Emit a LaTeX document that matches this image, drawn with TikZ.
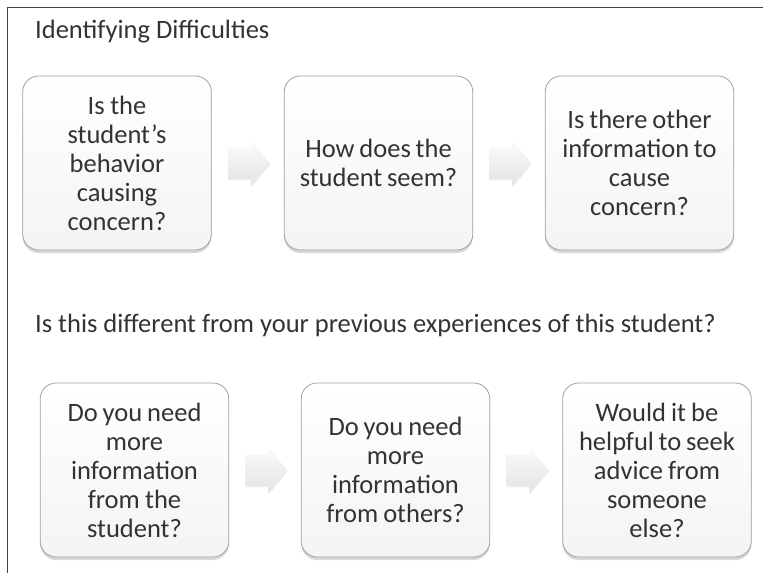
\documentclass[tikz,border=0pt]{standalone}
\usepackage{fontspec}
\setmainfont{Carlito}
\usetikzlibrary{shadows,calc}
\definecolor{boxgray}{HTML}{A0A0A0}
\definecolor{boxbot}{HTML}{F4F4F4}
\definecolor{txt}{HTML}{333333}
\definecolor{framec}{HTML}{444444}
\begin{document}
\begin{tikzpicture}[x=1pt,y=-1pt]
\useasboundingbox (0,0) rectangle (763,573);
\fill[white] (0,0) rectangle (763,573);
\tikzset{
  qbox/.style={draw=boxgray, line width=0.8pt, rounded corners=16pt,
    top color=white, bottom color=boxbot,
    minimum width=188pt, minimum height=174pt, text width=182pt,
    align=center, font=\fontsize{26.5}{29}\selectfont, text=txt,
    execute at begin node={\spaceskip=4.5pt plus 1pt minus 1pt\relax},
    drop shadow={shadow xshift=0pt, shadow yshift=-3pt, opacity=0.3}},
  flowarrow/.style={draw=none, top color=gray!3, bottom color=gray!22,
    drop shadow={shadow xshift=0.5pt, shadow yshift=-1.5pt, opacity=0.15}},
  lbl/.style={anchor=west, text=txt, font=\fontsize{26.5}{30}\selectfont, inner sep=0pt}
}
\draw[framec, line width=1.5pt] (7.5,573) -- (7.5,7.5) -- (763,7.5);
\node[lbl] (title) at (35,32) {Identifying Difficulties};
\node[qbox] (b1) at (117,163) {Is the\\student’s\\behavior\\causing\\concern?};
\node[qbox] (b2) at (378.5,163) {How does the\\student seem?};
\node[qbox] (b3) at (639.5,163) {Is there other\\information to\\cause\\concern?};
\node[lbl] (mid) at (35,325) {Is this different from your previous experiences of this student?};
\node[qbox] (b4) at (134.5,470) {Do you need\\more\\information\\from the\\student?};
\node[qbox] (b5) at (395.5,470) {Do you need\\more\\information\\from others?};
\node[qbox] (b6) at (657,470) {Would it be\\helpful to seek\\advice from\\someone\\else?};
\coordinate (a1) at ($(b1.east)!0.5!(b2.west)+(1,0)$);
\coordinate (a2) at ($(b2.east)!0.5!(b3.west)+(1,0)$);
\coordinate (a3) at ($(b4.east)!0.5!(b5.west)+(1,0)$);
\coordinate (a4) at ($(b5.east)!0.5!(b6.west)+(1,0)$);
\foreach \a in {a1,a2,a3,a4}{
  \path[flowarrow, shift={(\a)}] (-21,-15.5) -- (2,-15.5) -- (2,-23) -- (21,0) -- (2,23) -- (2,15.5) -- (-21,15.5) -- cycle;
}
\end{tikzpicture}
\end{document}
